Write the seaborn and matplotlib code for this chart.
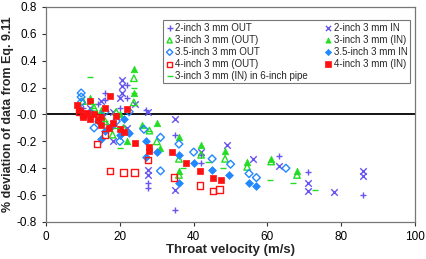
import numpy as np
import pandas as pd
import seaborn as sns
import matplotlib.pyplot as plt

# throat velocity (m/s) and % deviation for each data set
v_2out = [10, 12, 14, 16, 16, 18, 20, 22, 22, 27, 27.6, 27.6, 35, 35, 42, 42, 63, 71, 86]
d_2out = [0.05, -0.02, 0.08, 0.16, 0.11, -0.05, 0.05, 0.22, 0.12, 0.03, -0.51, -0.55, -0.15, -0.71, -0.36, -0.30, -0.31, -0.43, -0.60]

v_2in = [12, 15, 17, 18, 20, 20.6, 20.6, 20.6, 24, 27.6, 27.6, 27.6, 35, 35, 42, 49, 56, 63, 71, 71, 78, 86, 86, 18, 22]
d_2in = [0.05, 0.10, -0.08, 0.02, 0.12, 0.26, 0.21, 0.16, 0.08, 0.02, -0.41, -0.45, -0.03, -0.56, -0.28, -0.23, -0.33, -0.38, -0.51, -0.57, -0.58, -0.42, -0.46, -0.20, -0.10]

v_3out = [10, 13, 16, 19, 21, 23.8, 23.8, 28, 36, 36, 42, 48.5, 54.5, 61, 68, 30, 18]
d_3out = [0.10, 0.05, -0.05, 0.02, -0.10, 0.27, 0.09, -0.12, -0.33, -0.45, -0.30, -0.33, -0.39, -0.35, -0.45, -0.20, -0.15]

v_3in = [12, 15, 17, 20, 23.8, 23.8, 26, 30, 31, 36, 36, 42, 48.5, 54.5, 61, 68, 22]
d_3in = [0.12, 0.03, -0.10, 0.00, 0.34, 0.16, -0.08, -0.06, -0.25, -0.17, -0.42, -0.23, -0.27, -0.35, -0.33, -0.42, -0.20]

v_35out = [9.5, 9.5, 9.5, 13, 16, 19, 22.5, 26.5, 31, 31, 36, 40, 45, 50, 55, 57, 65, 20]
d_35out = [0.16, 0.13, 0.09, -0.10, 0.02, -0.05, 0.02, -0.11, -0.17, -0.42, -0.22, -0.28, -0.33, -0.37, -0.44, -0.47, -0.40, -0.20]

v_35in = [12, 14, 16, 18, 20, 22.5, 27, 27, 30, 36, 36, 40, 45, 49.6, 55, 57, 21, 15]
d_35in = [0.02, -0.05, -0.12, -0.08, -0.15, -0.14, -0.20, -0.32, -0.28, -0.30, -0.51, -0.36, -0.41, -0.45, -0.51, -0.53, -0.03, -0.18]

v_4out = [10, 13.8, 17.3, 21, 24, 27.6, 34.7, 41.7, 45.3, 47, 16, 9]
d_4out = [0.00, -0.22, -0.42, -0.43, -0.43, -0.34, -0.47, -0.53, -0.57, -0.56, -0.15, 0.02]

v_4in = [8.4, 9, 10, 11, 12, 13, 14, 15, 16, 17.3, 17, 18, 19, 20, 21, 22, 24, 27.9, 27.9, 34, 38, 41.7, 45.3, 47.4, 12, 15]
d_4in = [0.07, 0.03, -0.02, 0.01, -0.03, 0.00, -0.04, -0.02, 0.05, 0.14, -0.10, -0.06, -0.01, -0.11, -0.13, 0.04, -0.21, -0.24, -0.27, -0.28, -0.36, -0.42, -0.47, -0.49, 0.10, -0.08]

v_6in = [12, 12.7, 12.7, 16, 19, 23.8, 23.8, 28, 37, 48, 60.7, 67, 73, 44, 20]
d_6in = [0.28, 0.08, 0.05, -0.05, -0.10, 0.20, 0.16, -0.12, -0.40, -0.40, -0.49, -0.51, -0.56, -0.35, -0.25]

purple = '#6655EE'
green = '#22DD22'
blue = '#2288FF'
red = '#FF1111'

# label, x, y, marker, color, filled
series = [
    ('2-inch 3 mm OUT', v_2out, d_2out, '+', purple, None),
    ('2-inch 3 mm IN', v_2in, d_2in, 'x', purple, None),
    ('3-inch 3 mm (OUT)', v_3out, d_3out, '^', green, False),
    ('3-inch 3 mm (IN)', v_3in, d_3in, '^', green, True),
    ('3.5-inch 3 mm OUT', v_35out, d_35out, 'D', blue, False),
    ('3.5-inch 3 mm IN', v_35in, d_35in, 'D', blue, True),
    ('4-inch 3 mm (OUT)', v_4out, d_4out, 's', red, False),
    ('4-inch 3 mm (IN)', v_4in, d_4in, 's', red, True),
    ('3-inch 3 mm (IN) in 6-inch pipe', v_6in, d_6in, '_', green, None),
]

sns.set_style('white')
plt.rcParams['font.family'] = ['Liberation Sans', 'DejaVu Sans']

fig = plt.figure(figsize=(4.27, 2.59), dpi=100)
ax = fig.add_axes([0.108, 0.143, 0.864, 0.83])

for name, xs, ys, m, c, filled in series:
    df = pd.DataFrame({'v': xs, 'd': ys})
    size = 16 if m == 'D' else 22
    if filled is None:
        sns.scatterplot(data=df, x='v', y='d', marker=m, color=c, s=size,
                        linewidth=1.0, ax=ax, label=name)
    elif filled:
        sns.scatterplot(data=df, x='v', y='d', marker=m, color=c, s=size,
                        edgecolor=c, linewidth=0.5, ax=ax, label=name)
    else:
        sns.scatterplot(data=df, x='v', y='d', marker=m, s=size,
                        facecolor='none', edgecolor=c, linewidth=1.0, ax=ax, label=name)

ax.axhline(0, color='black', lw=1.3, zorder=0)

ax.set_xlim(0, 100)
ax.set_ylim(-0.8, 0.8)
ax.set_xticks(np.arange(0, 101, 20))
ax.set_yticks(np.arange(-0.8, 0.81, 0.2))
ax.set_yticklabels([f'{t:.1f}' for t in np.arange(-0.8, 0.81, 0.2)])
ax.tick_params(direction='out', length=3, width=0.8, labelsize=8.5, colors='#333333',
               left=True, bottom=True, labelcolor='black')
for sp in ax.spines.values():
    sp.set_color('#777777')
    sp.set_linewidth(0.9)

ax.set_xlabel('Throat velocity (m/s)', fontsize=9.5, fontweight='bold', labelpad=1)
ax.set_ylabel('% deviation of data from Eq. 9.11', fontsize=9, fontweight='bold', labelpad=2)

# legend order: two columns
h, l = ax.get_legend_handles_labels()
lookup = dict(zip(l, h))
order = ['2-inch 3 mm OUT', '3-inch 3 mm (OUT)', '3.5-inch 3 mm OUT', '4-inch 3 mm (OUT)',
         '3-inch 3 mm (IN) in 6-inch pipe',
         '2-inch 3 mm IN', '3-inch 3 mm (IN)', '3.5-inch 3 mm IN', '4-inch 3 mm (IN)']
leg = ax.legend([lookup[k] for k in order], order, ncol=2, fontsize=7,
                loc='upper right', bbox_to_anchor=(1.0, 0.96),
                frameon=True, fancybox=False, edgecolor='#555555',
                handletextpad=0.15, columnspacing=1.6, labelspacing=0.2,
                borderpad=0.25, handlelength=0.9, markerscale=0.8)
leg.get_frame().set_linewidth(0.8)

fig.savefig('out.png', dpi=100)
